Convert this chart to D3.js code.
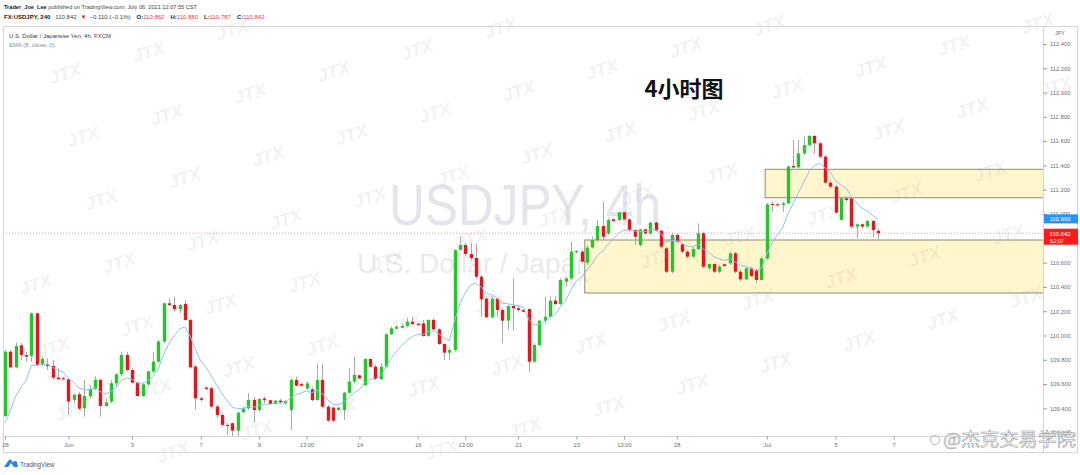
<!DOCTYPE html>
<html><head><meta charset="utf-8">
<script src="https://cdn.jsdelivr.net/npm/d3@7/dist/d3.min.js"></script>
<style>html,body{margin:0;padding:0;background:#fff;overflow:hidden}</style>
</head><body>
<svg id="c" width="1080" height="475"></svg>
<script>
// ---------- DATA ----------
const opens = [109.338,109.867,109.738,109.919,109.840,109.832,110.183,109.763,109.763,109.749,109.653,109.648,109.640,109.470,109.516,109.401,109.500,109.560,109.634,109.420,109.456,109.607,109.681,109.840,109.716,109.612,109.502,109.598,109.703,109.785,109.950,110.265,110.251,110.216,110.260,110.128,109.744,109.483,109.571,109.566,109.415,109.346,109.264,109.278,109.217,109.368,109.401,109.470,109.387,109.481,109.467,109.437,109.464,109.442,109.387,109.634,109.601,109.565,109.557,109.469,109.634,109.414,109.406,109.387,109.387,109.529,109.620,109.672,109.593,109.807,109.743,109.642,109.743,110.010,110.056,110.064,110.078,110.114,110.097,110.100,109.996,110.128,110.051,109.930,109.859,109.881,110.704,110.745,110.671,110.638,110.484,110.303,110.150,110.303,110.210,110.122,110.243,110.224,110.210,110.218,109.785,109.922,110.122,110.155,110.287,110.259,110.443,110.470,110.684,110.690,110.599,110.726,110.786,110.901,110.841,110.956,110.951,111.014,110.956,110.868,110.745,110.874,110.841,110.929,110.863,110.717,110.525,110.827,110.750,110.690,110.649,110.712,110.841,110.553,110.588,110.525,110.586,110.594,110.676,110.525,110.462,110.553,110.539,110.457,110.635,111.082,111.080,111.074,111.088,111.395,111.384,111.499,111.568,111.642,111.582,111.472,111.258,111.225,110.951,111.129,111.129,110.896,110.915,110.896,110.943,110.862];
const highs = [109.881,109.881,109.941,109.936,109.867,110.190,110.190,109.826,109.812,109.799,109.730,109.662,109.648,109.524,109.538,109.634,109.593,109.662,109.648,109.483,109.634,109.689,109.867,109.867,109.730,109.620,109.607,109.716,109.867,109.963,110.270,110.306,110.320,110.260,110.292,110.142,109.758,109.497,109.580,109.579,109.428,109.360,109.278,109.283,109.374,109.415,109.524,109.497,109.481,109.497,109.470,109.470,109.480,109.469,109.647,109.661,109.610,109.620,109.579,109.771,109.771,109.428,109.414,109.410,109.538,109.730,109.826,109.680,109.812,109.812,109.757,109.771,110.018,110.073,110.080,110.100,110.141,110.150,110.100,110.128,110.134,110.141,110.059,109.936,109.894,110.709,110.813,110.759,110.759,110.759,110.498,110.320,110.320,110.306,110.224,110.251,110.470,110.251,110.215,110.224,109.936,110.128,110.320,110.320,110.320,110.470,110.484,110.772,110.703,110.703,110.745,110.813,110.951,111.101,110.964,110.964,111.019,111.019,110.964,110.874,110.880,110.880,110.937,110.937,110.868,110.731,110.841,110.841,110.759,110.703,110.731,110.923,110.855,110.594,110.594,110.580,110.594,110.690,110.690,110.539,110.566,110.566,110.553,110.649,111.090,111.102,111.090,111.102,111.403,111.609,111.609,111.637,111.650,111.650,111.595,111.486,111.280,111.239,111.143,111.143,111.143,110.923,110.920,110.950,110.950,110.880];
const lows = [109.330,109.730,109.730,109.799,109.785,109.785,109.744,109.749,109.716,109.634,109.634,109.630,109.346,109.442,109.387,109.332,109.483,109.552,109.332,109.415,109.442,109.579,109.662,109.703,109.607,109.497,109.497,109.585,109.689,109.771,109.936,110.243,110.196,110.183,110.122,109.730,109.387,109.456,109.550,109.401,109.319,109.250,109.181,109.168,109.173,109.360,109.387,109.283,109.374,109.442,109.430,109.430,109.440,109.428,109.222,109.579,109.580,109.550,109.456,109.464,109.401,109.291,109.291,109.380,109.305,109.524,109.606,109.640,109.585,109.738,109.634,109.634,109.738,110.004,110.050,110.059,110.067,110.086,110.080,109.990,109.990,110.045,109.922,109.798,109.798,109.867,110.698,110.654,110.621,110.470,110.155,110.141,110.141,110.155,109.936,110.045,110.045,110.196,110.190,109.702,109.776,109.914,110.100,110.141,110.251,110.250,110.402,110.457,110.676,110.594,110.580,110.717,110.772,110.786,110.827,110.937,110.937,110.951,110.855,110.745,110.731,110.827,110.827,110.855,110.717,110.512,110.512,110.759,110.676,110.635,110.635,110.704,110.553,110.539,110.512,110.512,110.566,110.580,110.512,110.443,110.457,110.484,110.429,110.452,110.620,111.019,111.060,111.019,111.080,111.376,111.376,111.486,111.554,111.499,111.458,111.252,111.211,111.006,110.951,111.100,110.882,110.800,110.880,110.890,110.813,110.787];
const closes = [109.867,109.738,109.914,109.840,109.826,110.183,109.758,109.807,109.749,109.653,109.640,109.640,109.456,109.511,109.398,109.502,109.560,109.634,109.420,109.450,109.607,109.681,109.840,109.716,109.612,109.502,109.598,109.703,109.785,109.950,110.265,110.251,110.216,110.251,110.128,109.738,109.483,109.470,109.560,109.415,109.346,109.264,109.256,109.217,109.365,109.401,109.470,109.387,109.478,109.467,109.437,109.464,109.450,109.461,109.634,109.587,109.587,109.606,109.469,109.634,109.414,109.299,109.299,109.406,109.529,109.620,109.675,109.647,109.807,109.743,109.642,109.743,110.010,110.059,110.073,110.078,110.114,110.095,110.086,109.996,110.128,110.051,109.930,109.859,109.881,110.704,110.745,110.671,110.638,110.484,110.298,110.150,110.303,110.210,110.122,110.243,110.224,110.210,110.196,109.785,109.922,110.122,110.155,110.287,110.259,110.457,110.470,110.690,110.695,110.608,110.723,110.786,110.901,110.813,110.951,110.942,111.014,110.956,110.868,110.813,110.874,110.841,110.929,110.863,110.731,110.525,110.827,110.772,110.690,110.649,110.712,110.841,110.566,110.588,110.525,110.566,110.572,110.676,110.525,110.462,110.553,110.490,110.457,110.635,111.078,111.074,111.074,111.088,111.390,111.384,111.499,111.568,111.642,111.582,111.472,111.258,111.225,111.011,111.129,111.115,110.896,110.915,110.896,110.943,110.868,110.842];

// EMA (8, close, 0) indicator, seeded with the value before the first visible bar
const emaLength = 8;
const emaSeed = 109.11;

const priceTicks = [109.2,109.4,109.6,109.8,110.0,110.2,110.4,110.6,111.0,111.2,111.4,111.6,111.8,112.0,112.2,112.4];
const timeLabels = ["28","Jun","3","7","9","13:00","14","16","13:00","21","23","13:00","28","Jul","5","7"];
const timeIndex  = [0,12,24,37,48,57,67,78,87,97,108,117,127,144,157,168];

// zones (bar index start, price low, price high)
const zoneStart = [109.6, 143.7];
const zoneLow   = [110.350, 111.134];
const zoneHigh  = [110.786, 111.368];

const lastPrice = 110.842;
const emaLabel = 110.960;
const countdown = "52:07";
const hdrO = "110.862", hdrH = "110.880", hdrL = "110.787", hdrC = "110.842";
const hdrChange = "−0.110 (−0.1%)";

// ---------- LAYOUT ----------
const W = 1080, H = 475;
const L = 3, R = 1043, T = 27, B = 436;
const FONT = "'Liberation Sans', Arial, sans-serif";
const svg = d3.select("#c");

const x = d3.scaleLinear().domain([0, 196]).range([5, 5 + 196 * 5.29]);
const y = d3.scaleLinear().domain([109.2, 112.4]).range([432.7, 43.9]);

svg.append("rect").attr("width", W).attr("height", H).attr("fill", "#fff");

svg.append("defs").append("clipPath").attr("id", "plot")
  .append("rect").attr("x", L).attr("y", T).attr("width", R - L).attr("height", B - T);

const plot = svg.append("g").attr("clip-path", "url(#plot)");

// big symbol watermark
plot.append("text").attr("x", 525).attr("y", 225).attr("text-anchor", "middle")
  .attr("font-family", FONT).attr("font-size", 58).attr("fill", "#e3e5ec")
  .attr("textLength", 272).attr("lengthAdjust", "spacingAndGlyphs").text("USDJPY, 4h");
plot.append("text").attr("x", 524).attr("y", 273).attr("text-anchor", "middle")
  .attr("font-family", FONT).attr("font-size", 27).attr("fill", "#e8eaef")
  .attr("textLength", 334).attr("lengthAdjust", "spacingAndGlyphs").text("U.S. Dollar / Japanese Yen");

// zones
zoneStart.forEach((s, k) => {
  plot.append("rect")
    .attr("x", x(s)).attr("y", y(zoneHigh[k]))
    .attr("width", R + 5 - x(s)).attr("height", y(zoneLow[k]) - y(zoneHigh[k]))
    .attr("fill", "#fff6cc").attr("stroke", "#8c8a78").attr("stroke-width", 1);
});

// last price dotted line
plot.append("line").attr("x1", L).attr("x2", R).attr("y1", y(lastPrice)).attr("y2", y(lastPrice))
  .attr("stroke", "#f29a9a").attr("stroke-width", 1).attr("stroke-dasharray", "1,2");

// candles
const bars = d3.range(opens.length).map(i => ({i, o: opens[i], h: highs[i], l: lows[i], c: closes[i]}));
const UP = "#22c72a", DN = "#e3161d";
plot.append("g").selectAll("line").data(bars).join("line")
  .attr("x1", d => Math.round(x(d.i)) + 0.5).attr("x2", d => Math.round(x(d.i)) + 0.5)
  .attr("y1", d => y(d.h)).attr("y2", d => y(d.l))
  .attr("stroke", "#a6a8ad").attr("stroke-width", 1);
plot.append("g").selectAll("rect").data(bars).join("rect")
  .attr("x", d => Math.round(x(d.i)) - 1.2).attr("width", 3.4)
  .attr("y", d => y(Math.max(d.o, d.c)))
  .attr("height", d => Math.max(1, Math.abs(y(d.o) - y(d.c))))
  .attr("fill", d => d.c >= d.o ? UP : DN);

// EMA line
const kEma = 2 / (emaLength + 1);
let e = emaSeed;
const ema = closes.map(c => (e = e + kEma * (c - e)));
plot.append("path").datum(ema)
  .attr("d", d3.line().x((d, i) => x(i)).y(d => y(d)))
  .attr("fill", "none").attr("stroke", "#8cc4f2").attr("stroke-width", 1);

// JTX watermark lattice (kept inside the picture)
const wm = svg.append("g").attr("font-family", FONT).attr("font-weight", "bold").attr("font-style", "italic")
  .attr("font-size", 18).attr("fill", "#9a9a9a").attr("fill-opacity", 0.15);
for (let n = -2; n < 24; n++) {
  for (let m = -3; m < 8; m++) {
    const px = 234 + m * 268.5 - n * 83.5;
    const py = 30 + m * -2.2 + n * 21.75;
    if (px < 22 || px > W - 22 || py < 14 || py > H - 10) continue;
    wm.append("text").attr("transform", `translate(${px},${py + 6}) rotate(-18)`)
      .attr("text-anchor", "middle").text("JTX");
  }
}

// frame
svg.append("rect").attr("x", 3.5).attr("y", 26.5).attr("width", 1074).attr("height", 426)
  .attr("fill", "none").attr("stroke", "#d4d6dc");
svg.append("line").attr("x1", R + 0.5).attr("x2", R + 0.5).attr("y1", 26.5).attr("y2", 452.5).attr("stroke", "#d4d6dc");
svg.append("line").attr("x1", 3.5).attr("x2", 1077.5).attr("y1", B + 0.5).attr("y2", B + 0.5).attr("stroke", "#d4d6dc");

// price axis
const yAxis = d3.axisRight(y).tickValues(priceTicks).tickFormat(d3.format(".3f")).tickSize(4).tickPadding(3);
const ya = svg.append("g").attr("transform", `translate(${R},0)`).call(yAxis);
ya.select(".domain").remove();
ya.selectAll("line").attr("stroke", "#9a9ca3");
ya.selectAll("text").attr("font-family", FONT).attr("font-size", 5.8).attr("fill", "#6a6d78");
svg.append("text").attr("x", 1060).attr("y", 35).attr("text-anchor", "middle")
  .attr("font-family", FONT).attr("font-size", 5.5).attr("fill", "#6a6d78").text("JPY");

// price labels
const yb = y(emaLabel);
svg.append("rect").attr("x", R + 1).attr("y", yb - 4.5).attr("width", 34).attr("height", 9).attr("fill", "#2196f3");
svg.append("text").attr("x", 1060).attr("y", yb + 2.2).attr("text-anchor", "middle")
  .attr("font-family", FONT).attr("font-size", 6).attr("fill", "#fff").text(emaLabel.toFixed(3));
const yr = y(lastPrice);
svg.append("rect").attr("x", R + 1).attr("y", yr - 4.5).attr("width", 34).attr("height", 16).attr("fill", "#ff1a1a");
svg.append("text").attr("x", 1060).attr("y", yr + 2.6).attr("text-anchor", "middle")
  .attr("font-family", FONT).attr("font-size", 6).attr("fill", "#fff").text(lastPrice.toFixed(3));
svg.append("text").attr("x", 1057).attr("y", yr + 9.5).attr("text-anchor", "middle")
  .attr("font-family", FONT).attr("font-size", 5.5).attr("fill", "#fff").text(countdown);

// time axis
const xAxis = d3.axisBottom(x).tickValues(timeIndex).tickFormat((d, i) => timeLabels[i]).tickSize(3).tickPadding(3);
const xa = svg.append("g").attr("transform", `translate(0,${B + 0.5})`).call(xAxis);
xa.select(".domain").remove();
xa.selectAll("line").attr("stroke", "#9a9ca3");
xa.selectAll("text").attr("font-family", FONT).attr("font-size", 5.8).attr("fill", "#6a6d78");

// legend inside pane
svg.append("text").attr("x", 9).attr("y", 38).attr("font-family", FONT).attr("font-size", 6)
  .attr("fill", "#3a3d46").text("U.S. Dollar / Japanese Yen, 4h, FXCM");
svg.append("text").attr("x", 9).attr("y", 46.5).attr("font-family", FONT).attr("font-size", 6)
  .attr("fill", "#8a8d96").text("EMA (8, close, 0)");

// header
const h1 = svg.append("text").attr("x", 4).attr("y", 9).attr("font-family", FONT).attr("font-size", 6).attr("fill", "#444")
  .attr("textLength", 193).attr("lengthAdjust", "spacingAndGlyphs");
h1.append("tspan").attr("font-weight", "bold").attr("fill", "#222").text("Trader_Joe_Lee");
h1.append("tspan").text(" published on TradingView.com, July 06, 2021 12:07:55 CST");
const h2 = svg.append("text").attr("x", 4).attr("y", 18.5).attr("font-family", FONT).attr("font-size", 6).attr("fill", "#444");
h2.append("tspan").attr("font-weight", "bold").attr("fill", "#222").text("FX:USDJPY, 240");
h2.append("tspan").attr("dx", 5).text(hdrC);
h2.append("tspan").attr("dx", 4).attr("fill", "#e3161d").text("▼");
h2.append("tspan").attr("dx", 3).text(hdrChange);
[["O:", hdrO], ["H:", hdrH], ["L:", hdrL], ["C:", hdrC]].forEach(([k, v]) => {
  h2.append("tspan").attr("dx", 6).attr("font-weight", "bold").attr("fill", "#222").text(k);
  h2.append("tspan").attr("fill", "#f23645").text(v);
});

// title
svg.append("text").attr("x", 684).attr("y", 96.5).attr("text-anchor", "middle")
  .attr("font-family", "'Noto Sans CJK SC', sans-serif").attr("font-weight", "bold")
  .attr("font-size", 22).attr("fill", "#111").text("4小时图");

// TradingView logo
const logo = svg.append("g").attr("transform", "translate(4,459)");
logo.append("path").attr("d", "M0,8 L4,2 Q6,-1 8,2 L9,3.5 Q11,1 13,3 L14,8 Z").attr("fill", "#2f7ff0");
logo.append("path").attr("d", "M4,8 L7,4 L10,8 Z").attr("fill", "#fff");
svg.append("text").attr("x", 20).attr("y", 466.5).attr("font-family", FONT).attr("font-size", 6.3)
  .attr("fill", "#555").text("TradingView");

// bottom-right watermark
svg.append("circle").attr("cx", 935).attr("cy", 440).attr("r", 4.5).attr("fill", "none").attr("stroke", "#999").attr("stroke-width", 0.7);
svg.append("text").attr("x", 943).attr("y", 446).attr("font-family", "'Noto Sans CJK SC', sans-serif")
  .attr("font-size", 18).attr("fill", "#fff").attr("stroke", "#8f8f8f").attr("stroke-width", 0.5)
  .attr("textLength", 133).attr("lengthAdjust", "spacingAndGlyphs").text("@杰克交易学院");
</script>
</body></html>
